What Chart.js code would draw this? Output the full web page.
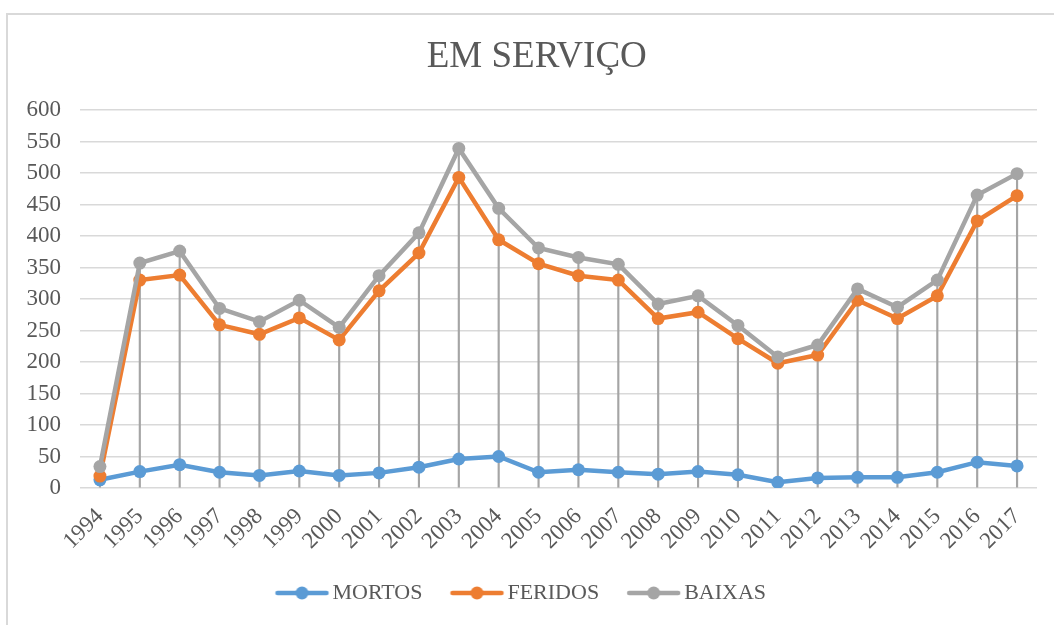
<!DOCTYPE html>
<html>
<head>
<meta charset="utf-8">
<script src="https://cdn.jsdelivr.net/npm/chart.js@4/dist/chart.umd.min.js"></script>
<style>
  html, body { margin: 0; padding: 0; background: #ffffff; overflow: hidden; }
  #wrap { position: relative; width: 1054px; height: 625px; }
  #frame { position: absolute; left: 6px; top: 13px; width: 1100px; height: 700px; border: 2px solid #d9d9d9; box-sizing: border-box; }
  canvas { position: absolute; left: 0; top: 0; }
</style>
</head>
<body>
<div id="wrap">
  <div id="frame"></div>
  <canvas id="c" width="1054" height="625"></canvas>
</div>
<script>
const years = ['1994','1995','1996','1997','1998','1999','2000','2001','2002','2003','2004','2005','2006','2007','2008','2009','2010','2011','2012','2013','2014','2015','2016','2017'];
const mortos = [13, 26, 37, 25, 20, 27, 20, 24, 33, 46, 50, 25, 29, 25, 22, 26, 21, 9, 16, 17, 17, 25, 41, 35];
const feridos = [19, 330, 338, 259, 244, 270, 235, 313, 373, 493, 394, 356, 337, 330, 269, 279, 237, 198, 211, 298, 269, 305, 424, 464];
const baixas = [34, 357, 376, 285, 264, 298, 255, 337, 405, 539, 444, 381, 366, 355, 292, 305, 258, 208, 227, 316, 287, 330, 465, 499];
const seriesNames = ['MORTOS', 'FERIDOS', 'BAIXAS'];
const seriesColors = ['#5b9bd5', '#ed7d31', '#a5a5a5'];
const yTicks = [0, 50, 100, 150, 200, 250, 300, 350, 400, 450, 500, 550, 600];

const FONT = "'Liberation Serif', 'Times New Roman', serif";
const TEXT = '#595959';

// drop lines: from the highest series value down to the axis
const dropTops = years.map((_, i) => Math.max(mortos[i], feridos[i], baixas[i]));

function legendIcon(color) {
  const cv = document.createElement('canvas');
  cv.width = 70; cv.height = 16;
  const g = cv.getContext('2d');
  g.strokeStyle = color; g.lineWidth = 4.5; g.lineCap = 'round';
  g.beginPath(); g.moveTo(16, 8); g.lineTo(65, 8); g.stroke();
  g.fillStyle = color;
  g.beginPath(); g.arc(40.5, 8, 6.5, 0, Math.PI * 2); g.fill();
  return cv;
}
const icons = seriesColors.map(legendIcon);

const seriesData = [mortos, feridos, baixas];
const lineSets = seriesNames.map((name, i) => ({
  type: 'line',
  label: name,
  data: seriesData[i],
  borderColor: seriesColors[i],
  backgroundColor: seriesColors[i],
  pointBackgroundColor: seriesColors[i],
  pointBorderColor: seriesColors[i],
  borderWidth: 4.5,
  pointRadius: 6.5,
  pointBorderWidth: 0,
  tension: 0,
  order: 3 - i
}));

// small nudges of the title and legend boxes after layout
const nudge = {
  id: 'nudge',
  afterLayout(chart) {
    if (chart.titleBlock) { chart.titleBlock.left += 5; chart.titleBlock.right += 5; }
    if (chart.legend) { chart.legend.left -= 13; chart.legend.right -= 13; }
  }
};

new Chart(document.getElementById('c'), {
  data: {
    labels: years,
    datasets: [
      ...lineSets,
      {
        type: 'bar',
        label: '',
        data: dropTops,
        backgroundColor: '#a5a5a5',
        barThickness: 1.5,
        order: 10
      }
    ]
  },
  plugins: [nudge],
  options: {
    responsive: false,
    animation: false,
    devicePixelRatio: 1,
    layout: { padding: { top: 35, left: 26.5, right: 17, bottom: 11 } },
    plugins: {
      tooltip: { enabled: false },
      title: {
        display: true,
        text: 'EM SERVIÇO',
        color: TEXT,
        font: { family: FONT, size: 37, weight: 'normal' },
        padding: { top: 0, bottom: 30.6 }
      },
      legend: {
        position: 'bottom',
        labels: {
          color: TEXT,
          font: { family: FONT, size: 22 },
          usePointStyle: true,
          pointStyleWidth: 50,
          padding: 24,
          generateLabels(chart) {
            return chart.data.datasets
              .map((ds, i) => ({
                text: ds.label,
                pointStyle: icons[i],
                fillStyle: ds.backgroundColor,
                strokeStyle: ds.backgroundColor,
                lineWidth: 0,
                fontColor: TEXT,
                hidden: !chart.isDatasetVisible(i),
                datasetIndex: i
              }))
              .filter(it => it.text);
          }
        }
      }
    },
    scales: {
      x: {
        offset: true,
        grid: { display: false, drawTicks: false },
        border: { display: false },
        ticks: {
          color: TEXT,
          font: { family: FONT, size: 23 },
          minRotation: 45,
          maxRotation: 45,
          autoSkip: false,
          padding: 15
        },
        afterFit(scale) { scale.height = 70; scale.paddingLeft = 0; scale.paddingRight = 0; }
      },
      y: {
        min: 0,
        max: 600,
        afterBuildTicks(scale) { scale.ticks = yTicks.map(v => ({ value: v })); },
        grid: { color: '#d9d9d9', lineWidth: 1.5, drawTicks: false },
        border: { display: false },
        ticks: {
          color: TEXT,
          font: { family: FONT, size: 23 },
          padding: 19
        },
        afterFit(scale) { scale.width = 53.5; }
      }
    }
  }
});
</script>
</body>
</html>
